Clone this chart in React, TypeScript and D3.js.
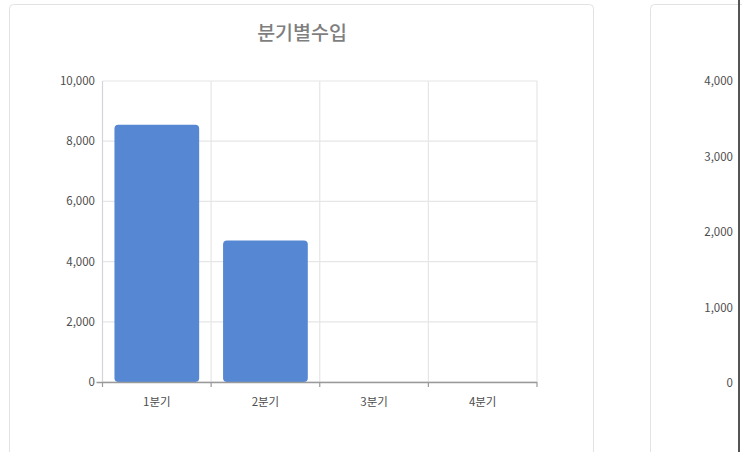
import { useRef, useEffect } from "react";
import * as d3 from "d3";

// data
const quarters = ["1분기", "2분기", "3분기", "4분기"];
const income = [8550, 4700, 0, 0];
const leftTicks = [0, 2000, 4000, 6000, 8000, 10000];
const rightTicks = [0, 1000, 2000, 3000, 4000];
const chartTitle = "분기별수입";

const W = 742;
const H = 452;
const FONT = "'Noto Sans CJK KR', 'Noto Sans', sans-serif";

export default function App() {
  const svgRef = useRef<SVGSVGElement>(null);

  useEffect(() => {
    const svg = d3.select(svgRef.current);
    svg.selectAll("*").remove();
    svg.attr("width", W).attr("height", H);

    svg.append("rect").attr("width", W).attr("height", H).attr("fill", "#fff");

    // panels
    svg
      .append("rect")
      .attr("x", 9.5)
      .attr("y", 4.5)
      .attr("width", 584)
      .attr("height", 520)
      .attr("rx", 4)
      .attr("fill", "#fff")
      .attr("stroke", "#e2e2e2");

    svg
      .append("rect")
      .attr("x", 650.5)
      .attr("y", 4.5)
      .attr("width", 200)
      .attr("height", 520)
      .attr("rx", 4)
      .attr("fill", "#fff")
      .attr("stroke", "#e2e2e2");

    // left chart scales
    const x = d3
      .scaleBand<string>()
      .domain(quarters)
      .range([102.5, 537])
      .paddingInner(0.22)
      .paddingOuter(0.11);

    const y = d3.scaleLinear().domain([0, 10000]).range([382, 81]);

    const g = svg.append("g");

    // horizontal grid
    g.selectAll("line.hgrid")
      .data(leftTicks)
      .join("line")
      .attr("class", "hgrid")
      .attr("x1", x.range()[0])
      .attr("x2", x.range()[1])
      .attr("y1", (d) => y(d))
      .attr("y2", (d) => y(d))
      .attr("stroke", "#e6e6e6")
      .attr("stroke-width", 1.2);

    // vertical grid at band boundaries
    const bounds = d3.range(quarters.length + 1).map((i) => x.range()[0] + i * x.step());
    g.selectAll("line.vgrid")
      .data(bounds)
      .join("line")
      .attr("class", "vgrid")
      .attr("x1", (d) => d)
      .attr("x2", (d) => d)
      .attr("y1", y(10000))
      .attr("y2", y(0))
      .attr("stroke", (_, i) => (i === 0 ? "#d8d2dc" : "#e6e6e6"))
      .attr("stroke-width", 1.2);

    // bars
    g.selectAll("rect.bar")
      .data(income.map((v, i) => ({ q: quarters[i], v })).filter((d) => d.v > 0))
      .join("rect")
      .attr("class", "bar")
      .attr("x", (d) => x(d.q)!)
      .attr("y", (d) => y(d.v))
      .attr("width", x.bandwidth())
      .attr("height", (d) => y(0) - y(d.v))
      .attr("rx", 4)
      .attr("fill", "#5587d3");

    // bottom axis
    g.append("line")
      .attr("x1", x.range()[0] - 6)
      .attr("x2", x.range()[1])
      .attr("y1", y(0) + 0.5)
      .attr("y2", y(0) + 0.5)
      .attr("stroke", "#9a9a9a")
      .attr("stroke-width", 1.5);

    g.selectAll("line.xtick")
      .data(bounds)
      .join("line")
      .attr("class", "xtick")
      .attr("x1", (d) => d)
      .attr("x2", (d) => d)
      .attr("y1", y(0))
      .attr("y2", y(0) + 5)
      .attr("stroke", "#9a9a9a")
      .attr("stroke-width", 1.2);

    // left tick labels
    g.selectAll("text.ylab")
      .data(leftTicks)
      .join("text")
      .attr("class", "ylab")
      .attr("x", 95)
      .attr("y", (d) => y(d))
      .attr("dy", "0.35em")
      .attr("text-anchor", "end")
      .attr("font-family", FONT)
      .attr("font-size", 11.5)
      .attr("fill", "#4d4d4d")
      .text((d) => d3.format(",")(d));

    // x labels
    g.selectAll("text.xlab")
      .data(quarters)
      .join("text")
      .attr("class", "xlab")
      .attr("x", (d) => x(d)! + x.bandwidth() / 2)
      .attr("y", 402)
      .attr("dy", "0.35em")
      .attr("text-anchor", "middle")
      .attr("font-family", FONT)
      .attr("font-size", 11.5)
      .attr("fill", "#4d4d4d")
      .text((d) => d);

    // title
    svg
      .append("text")
      .attr("x", 302)
      .attr("y", 33)
      .attr("dy", "0.35em")
      .attr("text-anchor", "middle")
      .attr("font-family", FONT)
      .attr("font-size", 19.5)
      .attr("font-weight", 500)
      .attr("fill", "#7f7f7f")
      .text(chartTitle);

    // right chart y labels
    const y2 = d3.scaleLinear().domain([0, 4000]).range([383, 81]);
    svg
      .selectAll("text.y2lab")
      .data(rightTicks)
      .join("text")
      .attr("class", "y2lab")
      .attr("x", 733)
      .attr("y", (d) => y2(d))
      .attr("dy", "0.35em")
      .attr("text-anchor", "end")
      .attr("font-family", FONT)
      .attr("font-size", 11.5)
      .attr("fill", "#4d4d4d")
      .text((d) => d3.format(",")(d));

    // dark edge on the right
    svg
      .append("rect")
      .attr("x", 738)
      .attr("y", 0)
      .attr("width", 2)
      .attr("height", H)
      .attr("fill", "#555");
  }, []);

  return (
    <>
      <style>{`body{margin:0}`}</style>
      <svg ref={svgRef} style={{ display: "block" }}></svg>
    </>
  );
}
